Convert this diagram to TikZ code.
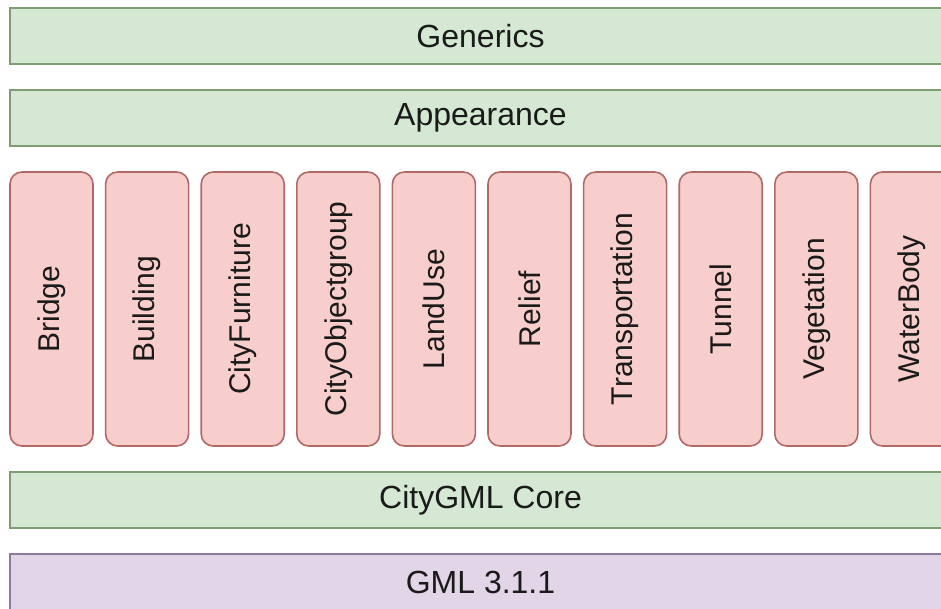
\documentclass[tikz,border=0pt]{standalone}
\usepackage{fontspec}
\setmainfont{Liberation Sans}
\usepackage{tikz}

\definecolor{layerfill}{HTML}{D5E8D4}
\definecolor{layerdraw}{HTML}{7E9E72}
\definecolor{modfill}{HTML}{F8CECC}
\definecolor{moddraw}{HTML}{B06A66}
\definecolor{basefill}{HTML}{E1D5E7}
\definecolor{basedraw}{HTML}{8E7A98}
\definecolor{txt}{HTML}{1A1A1A}

\begin{document}
\begin{tikzpicture}[x=1pt, y=-1pt]
    % Styles
    \tikzstyle{layer} = [rectangle, draw=layerdraw, line width=1.6pt, fill=layerfill, minimum width=941pt, minimum height=56pt, inner sep=0pt, text=txt, font=\fontsize{32}{36}\selectfont]
    \tikzstyle{base} = [layer, draw=basedraw, fill=basefill]
    \tikzstyle{module} = [rectangle, rounded corners=12pt, draw=moddraw, line width=1.6pt, fill=modfill, minimum width=274pt, minimum height=83pt, inner sep=0pt, rotate=90, text=txt, font=\fontsize{30}{34}\selectfont]

    \useasboundingbox (0,0) rectangle (941,608);
    \clip (0,0) rectangle (941,608);
    \fill[white] (0,0) rectangle (941,608);

    % Layers
    \node[layer] (generics) at (480.5, 36) {Generics};
    \node[layer] (appearance) at (480.5, 118) {Appearance};

    % Thematic modules
    \node[module] (bridge) at (51.5, 309) {Bridge};
    \node[module] (building) at (147.1, 309) {Building};
    \node[module] (furniture) at (242.7, 309) {CityFurniture};
    \node[module] (objgroup) at (338.3, 309) {CityObjectgroup};
    \node[module] (landuse) at (433.9, 309) {LandUse};
    \node[module] (relief) at (529.5, 309) {Relief};
    \node[module] (transport) at (625.1, 309) {Transportation};
    \node[module] (tunnel) at (720.7, 309) {Tunnel};
    \node[module] (vegetation) at (816.3, 309) {Vegetation};
    \node[module] (waterbody) at (911.9, 309) {WaterBody};

    % Core and base
    \node[layer] (core) at (480.5, 500) {CityGML Core};
    \node[base] (gml) at (480.5, 582) {GML 3.1.1};
\end{tikzpicture}
\end{document}
